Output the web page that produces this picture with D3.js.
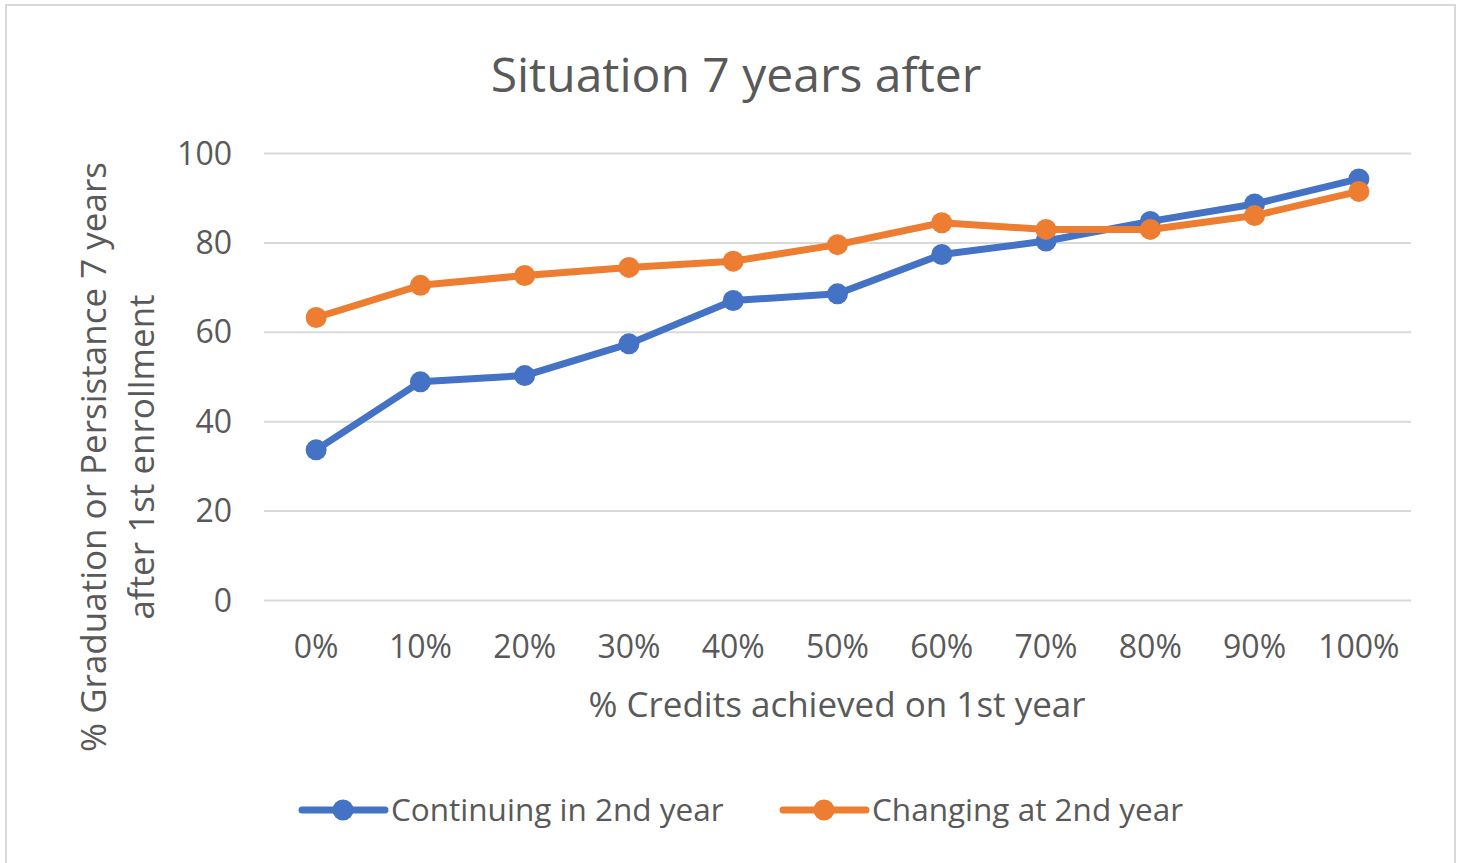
<html>
<head>
<meta charset="utf-8">
<script src="https://d3js.org/d3.v7.min.js"></script>
<style>
body { margin: 0; background: #fff; }
.chart text { fill: #595959; font-family: "Open Sans", sans-serif; }
.grid line { stroke: #d9d9d9; stroke-width: 2; }
.grid .domain { display: none; }
</style>
</head>
<body>
<script>
// chart data
var categories = ["0%", "10%", "20%", "30%", "40%", "50%", "60%", "70%", "80%", "90%", "100%"];
var continuing = [33.6, 48.8, 50.2, 57.3, 67.0, 68.5, 77.3, 80.3, 84.7, 88.6, 94.2];
var changing = [63.2, 70.4, 72.6, 74.4, 75.8, 79.5, 84.4, 82.9, 82.9, 86.0, 91.4];
var yTicks = [0, 20, 40, 60, 80, 100];
var seriesNames = ["Continuing in 2nd year", "Changing at 2nd year"];
var colors = ["#4472c4", "#ed7d31"];

var W = 1461, H = 863;
var margin = {top: 153, right: 50, bottom: 263, left: 264};
var width = 1411 - margin.left;
var height = 600 - margin.top;

var svg = d3.select("body").append("svg")
    .attr("class", "chart")
    .attr("width", W)
    .attr("height", H);

// outer frame
svg.append("rect")
    .attr("x", 6).attr("y", 5)
    .attr("width", 1449).attr("height", 870)
    .attr("fill", "#fff")
    .attr("stroke", "#d9d9d9")
    .attr("stroke-width", 2);

svg.append("text")
    .attr("x", 736).attr("y", 92)
    .attr("text-anchor", "middle")
    .style("font-size", "48px")
    .text("Situation 7 years after");

var g = svg.append("g")
    .attr("transform", "translate(" + margin.left + "," + margin.top + ")");

var x = d3.scaleBand().domain(categories).range([0, width]);
var y = d3.scaleLinear().domain([0, 100]).range([height, 0]);

// gridlines
g.append("g")
    .attr("class", "grid")
    .call(d3.axisLeft(y).tickValues(yTicks).tickSize(-width).tickFormat(""));

// y tick labels
g.append("g").selectAll("text")
    .data(yTicks)
  .enter().append("text")
    .attr("x", -32)
    .attr("y", function(d) { return y(d); })
    .attr("dy", "0.36em")
    .attr("text-anchor", "end")
    .style("font-size", "32px")
    .text(function(d) { return d; });

// x tick labels
g.append("g").selectAll("text")
    .data(categories)
  .enter().append("text")
    .attr("x", function(d) { return x(d) + x.bandwidth() / 2; })
    .attr("y", height + 58)
    .attr("text-anchor", "middle")
    .style("font-size", "32px")
    .text(function(d) { return d; });

// axis titles
svg.append("text")
    .attr("x", 837).attr("y", 717)
    .attr("text-anchor", "middle")
    .style("font-size", "35px")
    .text("% Credits achieved on 1st year");

var yt = svg.append("text")
    .attr("transform", "translate(106,457) rotate(-90)")
    .attr("text-anchor", "middle")
    .style("font-size", "35px");
yt.append("tspan").attr("x", 0).attr("y", 0).text("% Graduation or Persistance 7 years");
yt.append("tspan").attr("x", 0).attr("y", 48).text("after 1st enrollment");

// series
var series = [continuing, changing];
var line = d3.line()
    .x(function(d, i) { return x(categories[i]) + x.bandwidth() / 2; })
    .y(function(d) { return y(d); });

series.forEach(function(vals, s) {
    g.append("path")
        .datum(vals)
        .attr("fill", "none")
        .attr("stroke", colors[s])
        .attr("stroke-width", 7)
        .attr("stroke-linejoin", "round")
        .attr("d", line);
    g.selectAll(".dot" + s)
        .data(vals)
      .enter().append("circle")
        .attr("cx", function(d, i) { return x(categories[i]) + x.bandwidth() / 2; })
        .attr("cy", function(d) { return y(d); })
        .attr("r", 10.5)
        .attr("fill", colors[s]);
});

// legend
var legendX = [302, 783];
seriesNames.forEach(function(name, s) {
    var lg = svg.append("g").attr("transform", "translate(" + legendX[s] + ",810)");
    lg.append("line")
        .attr("x1", 0).attr("x2", 83)
        .attr("stroke", colors[s])
        .attr("stroke-width", 7)
        .attr("stroke-linecap", "round");
    lg.append("circle").attr("cx", 41).attr("r", 10.5).attr("fill", colors[s]);
    lg.append("text")
        .attr("x", 89).attr("dy", "0.36em")
        .style("font-size", "31.5px")
        .text(name);
});
</script>
</body>
</html>
